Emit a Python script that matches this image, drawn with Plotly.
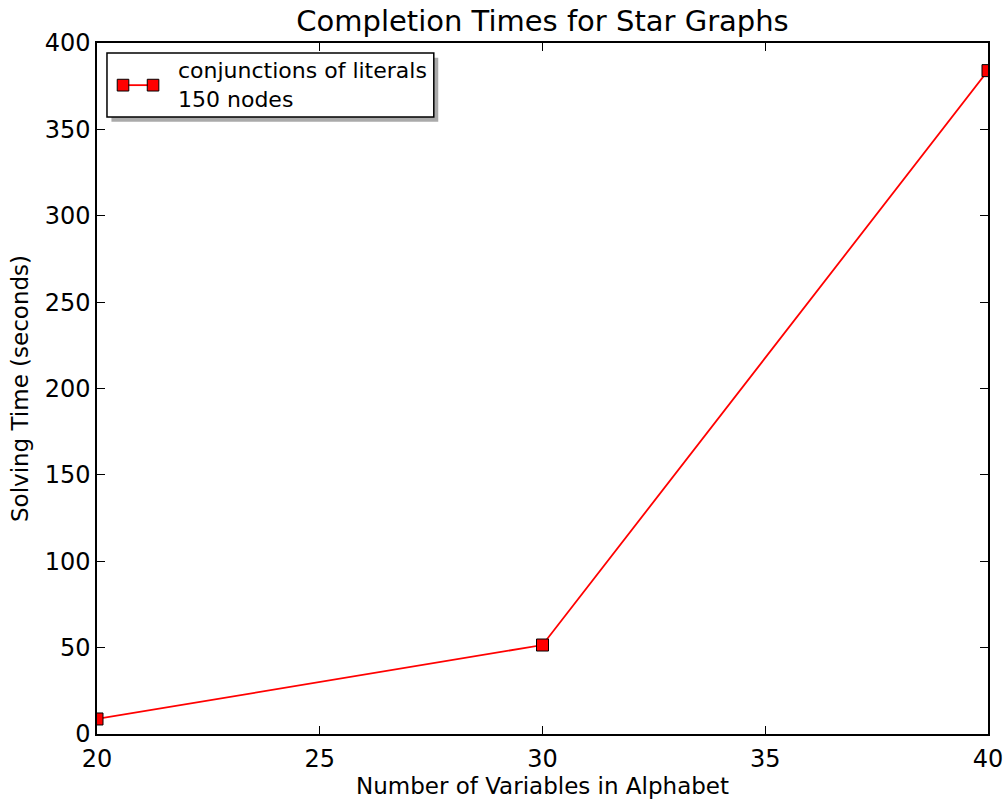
import plotly.graph_objects as go

x_vals = [20, 30, 40]
y_vals = [8.7, 51.5, 384]
series_name = "conjunctions of literals<br>150 nodes"
x_ticks = [20, 25, 30, 35, 40]
y_ticks = [0, 50, 100, 150, 200, 250, 300, 350, 400]

FONT = "DejaVu Sans"

fig = go.Figure()
fig.add_trace(go.Scatter(
    x=x_vals, y=y_vals, mode="lines+markers",
    line=dict(color="#ff0000", width=1.8),
    marker=dict(symbol="square", size=12, color="#ff0000",
                line=dict(color="black", width=1)),
    cliponaxis=True, showlegend=False, name=series_name,
))

axis_common = dict(
    showgrid=False, zeroline=False, showline=True, linecolor="black", linewidth=1.5,
    mirror="allticks", ticks="inside", ticklen=8, tickwidth=1, tickcolor="black",
    tickfont=dict(family=FONT, size=24, color="black"), automargin=False,
)
fig.update_xaxes(range=[20, 40], tickvals=x_ticks, ticktext=[str(v) for v in x_ticks],
                 ticklabelstandoff=2,
                 title=dict(text="Number of Variables in Alphabet",
                            font=dict(family=FONT, size=23, color="black"), standoff=9),
                 **axis_common)
fig.update_yaxes(range=[0, 400], tickvals=y_ticks, ticktext=[str(v) for v in y_ticks],
                 title=dict(text="Solving Time (seconds)",
                            font=dict(family=FONT, size=23, color="black"), standoff=10),
                 **axis_common)

# manual legend (matplotlib style with shadow)
lx0, lx1, ly0, ly1 = 0.0112, 0.378, 0.893, 0.9855
fig.add_shape(type="rect", xref="paper", yref="paper", x0=lx0 + 0.005, x1=lx1 + 0.005,
              y0=ly0 - 0.007, y1=ly1 - 0.007, line=dict(width=0), fillcolor="#aaaaaa", layer="above")
fig.add_shape(type="rect", xref="paper", yref="paper", x0=lx0, x1=lx1, y0=ly0, y1=ly1,
              line=dict(color="black", width=1.5), fillcolor="white", layer="above")
fig.add_shape(type="line", xref="paper", yref="paper", x0=0.0292, x1=0.0629, y0=0.939, y1=0.939,
              line=dict(color="#ff0000", width=1.8), layer="above")
for mx in (0.0292, 0.0629):
    fig.add_shape(type="rect", xref="paper", yref="paper", x0=mx - 0.0065, x1=mx + 0.0065,
                  y0=0.939 - 0.0085, y1=0.939 + 0.0085,
                  line=dict(color="black", width=1), fillcolor="#ff0000", layer="above")
fig.add_annotation(xref="paper", yref="paper", x=0.089, y=0.939, xanchor="left", yanchor="middle",
                   text=series_name, showarrow=False, align="left",
                   font=dict(family=FONT, size=22, color="black"))

fig.update_layout(
    width=1008, height=799,
    margin=dict(l=97, r=20, t=43, b=65),
    paper_bgcolor="white", plot_bgcolor="white",
    title=dict(text="Completion Times for Star Graphs", x=0.5, xref="paper", xanchor="center",
               y=0.987, yanchor="top", font=dict(family=FONT, size=29, color="black")),
    showlegend=False,
)
fig.write_html("out.html")
